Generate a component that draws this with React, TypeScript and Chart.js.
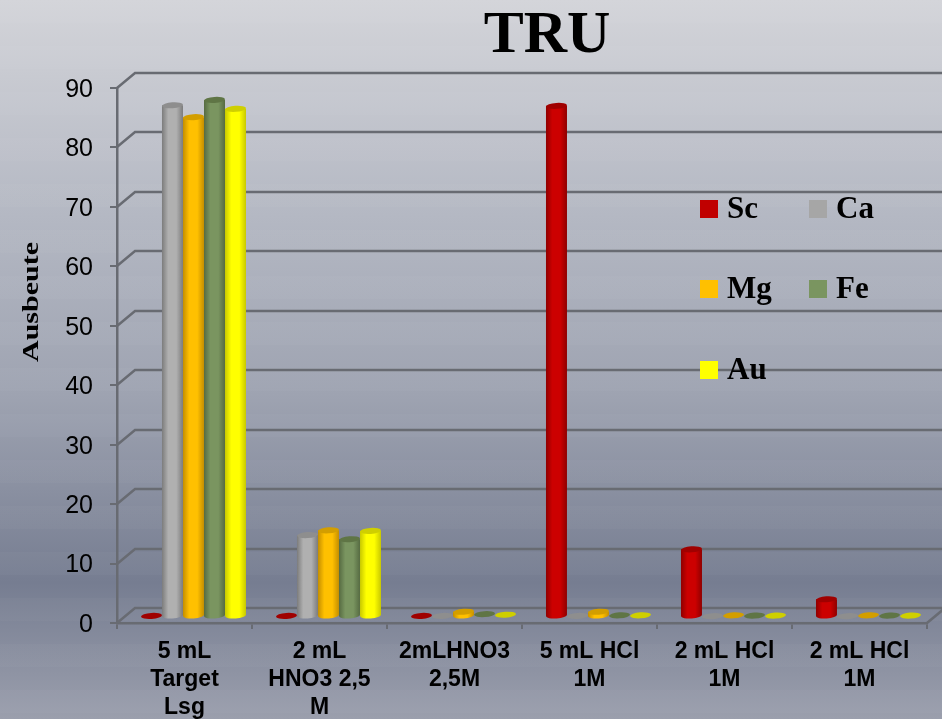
import React, { useEffect, useRef } from "react";
import { Chart, registerables } from "chart.js";

Chart.register(...registerables);

const categories: string[][] = [
  ["5 mL", "Target", "Lsg"],
  ["2 mL", "HNO3 2,5", "M"],
  ["2mLHNO3", "2,5M"],
  ["5 mL HCl", "1M"],
  ["2 mL HCl", "1M"],
  ["2 mL HCl", "1M"],
];
const sc = [0.1, 0.1, 0.1, 85.9, 11.3, 2.9];
const ca = [86.0, 13.7, 0.1, 0.1, 0.05, 0.05];
const mg = [84.0, 14.5, 0.8, 0.8, 0.2, 0.2];
const fe = [86.9, 13.0, 0.4, 0.2, 0.15, 0.15];
const au = [85.4, 14.4, 0.3, 0.2, 0.15, 0.15];
const seriesNames = ["Sc", "Ca", "Mg", "Fe", "Au"];
const seriesColors = ["#CC0000", "#B0B0B0", "#FFC000", "#7A9560", "#FFFF00"];
const edgeColors = ["#8F0000", "#7C7C7C", "#C48E00", "#566B42", "#C8C800"];
const topColors = ["#A00000", "#8E8E8E", "#D39E00", "#5F7545", "#CFCF00"];
const swatchColors = ["#C00000", "#A6A6A6", "#FFC000", "#7A9560", "#FFFF00"];
const seriesValues = [sc, ca, mg, fe, au];
const yTicks = [0, 10, 20, 30, 40, 50, 60, 70, 80, 90];

const chartTitle = "TRU";
const yTitle = "Ausbeute";
const lineColor = "#686B72";
const serif = '"Liberation Serif", serif';
const sans = '"Liberation Sans", Arial, sans-serif';
const DX = 18;
const DY = -15;
const LIFT = -6.5;

const legendSlots = [
  [700, 200],
  [809, 200],
  [700, 280],
  [809, 280],
  [700, 361],
];

const depthPlugin = {
  id: "depth",
  afterLayout(chart: any) {
    const t = chart.titleBlock;
    if (t) {
      t.left += 25;
      t.right += 25;
    }
  },
  beforeDatasetsDraw(chart: any) {
    const { ctx, chartArea, scales } = chart;
    const y = scales.y;
    ctx.save();
    ctx.strokeStyle = lineColor;
    ctx.lineWidth = 2.5;
    for (const v of yTicks) {
      const py = Math.round(y.getPixelForValue(v));
      ctx.beginPath();
      ctx.moveTo(chartArea.left, py);
      ctx.lineTo(chartArea.left + DX, py + DY);
      ctx.lineTo(chartArea.right + DX, py + DY);
      ctx.stroke();
    }
    ctx.beginPath();
    ctx.moveTo(chartArea.right, chartArea.bottom);
    ctx.lineTo(chartArea.right + DX, chartArea.bottom + DY);
    ctx.stroke();
    ctx.restore();
  },
  beforeDatasetDraw(chart: any, args: any) {
    const { ctx } = chart;
    const i = args.index;
    const tilt = -0.07;
    ctx.save();
    for (const bar of args.meta.data) {
      const { x, y, base, width } = bar.getProps(["x", "y", "base", "width"], true);
      const cx = x + DX / 2;
      const top = y + LIFT;
      const bottom = base + LIFT;
      const rx = width / 2;
      const ry = 3;
      if (bottom - top > 2.5) {
        const g = ctx.createLinearGradient(cx - rx, 0, cx + rx, 0);
        g.addColorStop(0, edgeColors[i]);
        g.addColorStop(0.3, seriesColors[i]);
        g.addColorStop(0.68, seriesColors[i]);
        g.addColorStop(1, edgeColors[i]);
        ctx.fillStyle = g;
        ctx.beginPath();
        ctx.moveTo(cx - rx, top);
        ctx.lineTo(cx - rx, bottom);
        ctx.ellipse(cx, bottom, rx, ry, tilt, Math.PI, 0, true);
        ctx.lineTo(cx + rx, top);
        ctx.closePath();
        ctx.fill();
      }
      ctx.fillStyle = topColors[i];
      ctx.beginPath();
      ctx.ellipse(cx, top, rx, ry, tilt, 0, Math.PI * 2);
      ctx.fill();
    }
    ctx.restore();
    return false;
  },
  afterDraw(chart: any) {
    const { ctx } = chart;
    ctx.save();
    ctx.fillStyle = "#000";
    ctx.textBaseline = "middle";
    ctx.textAlign = "left";
    ctx.font = `bold 31px ${serif}`;
    seriesNames.forEach((name, i) => {
      const [sx, sy] = legendSlots[i];
      ctx.fillStyle = swatchColors[i];
      ctx.fillRect(sx, sy, 18, 18);
      ctx.fillStyle = "#000";
      ctx.fillText(name, sx + 27, sy + 10);
    });
    ctx.translate(32, 302);
    ctx.rotate(-Math.PI / 2);
    ctx.scale(1.25, 1);
    ctx.textAlign = "center";
    ctx.font = `bold 24px ${serif}`;
    ctx.fillText(yTitle, 0, 0);
    ctx.restore();
  },
};

export default function App() {
  const ref = useRef<HTMLCanvasElement>(null);
  useEffect(() => {
    const chart = new Chart(ref.current!, {
      type: "bar",
      data: {
        labels: categories,
        datasets: seriesNames.map((name, i) => ({
          label: name,
          data: seriesValues[i],
          backgroundColor: swatchColors[i],
          categoryPercentage: 0.778,
          barPercentage: 1,
        })),
      },
      options: {
        animation: false,
        responsive: false,
        layout: { padding: { top: 6, right: 15, left: 0, bottom: 0 } },
        plugins: {
          legend: { display: false },
          tooltip: { enabled: false },
          title: {
            display: true,
            text: chartTitle,
            fullSize: false,
            color: "#000",
            font: { family: serif, size: 60, weight: "bold", lineHeight: 1 },
            padding: { top: 0, bottom: 22 },
          },
        },
        scales: {
          x: {
            afterFit: (s: any) => {
              s.height = 96;
            },
            grid: {
              drawOnChartArea: false,
              drawTicks: true,
              tickLength: 6,
              color: lineColor,
              lineWidth: 2,
              offset: true,
            },
            border: { color: lineColor, width: 2.5 },
            ticks: {
              color: "#000",
              maxRotation: 0,
              autoSkip: false,
              padding: 9,
              font: { family: sans, size: 23, weight: "bold", lineHeight: 1.22 },
            },
          },
          y: {
            min: 0,
            max: 90,
            afterFit: (s: any) => {
              s.width = 117;
            },
            grid: {
              drawOnChartArea: false,
              drawTicks: true,
              tickLength: 7,
              color: lineColor,
              lineWidth: 2,
            },
            border: { color: lineColor, width: 2.5 },
            ticks: {
              stepSize: 10,
              color: "#000",
              padding: 17,
              labelOffset: 2,
              font: { family: sans, size: 25 },
            },
          },
        },
      },
      plugins: [depthPlugin],
    } as any);
    return () => chart.destroy();
  }, []);
  return (
    <div
      style={{
        position: "fixed",
        inset: 0,
        background:
          "repeating-linear-gradient(180deg, rgba(255,255,255,0.025) 0 23px, rgba(255,255,255,0) 23px 46px), linear-gradient(180deg, #D3D4D9 0%, #B4B8C3 30%, #9EA3B1 55%, #767D91 81%, #9B9FAD 100%)",
      }}
    >
      <canvas ref={ref} width={942} height={719} style={{ display: "block" }} />
    </div>
  );
}
